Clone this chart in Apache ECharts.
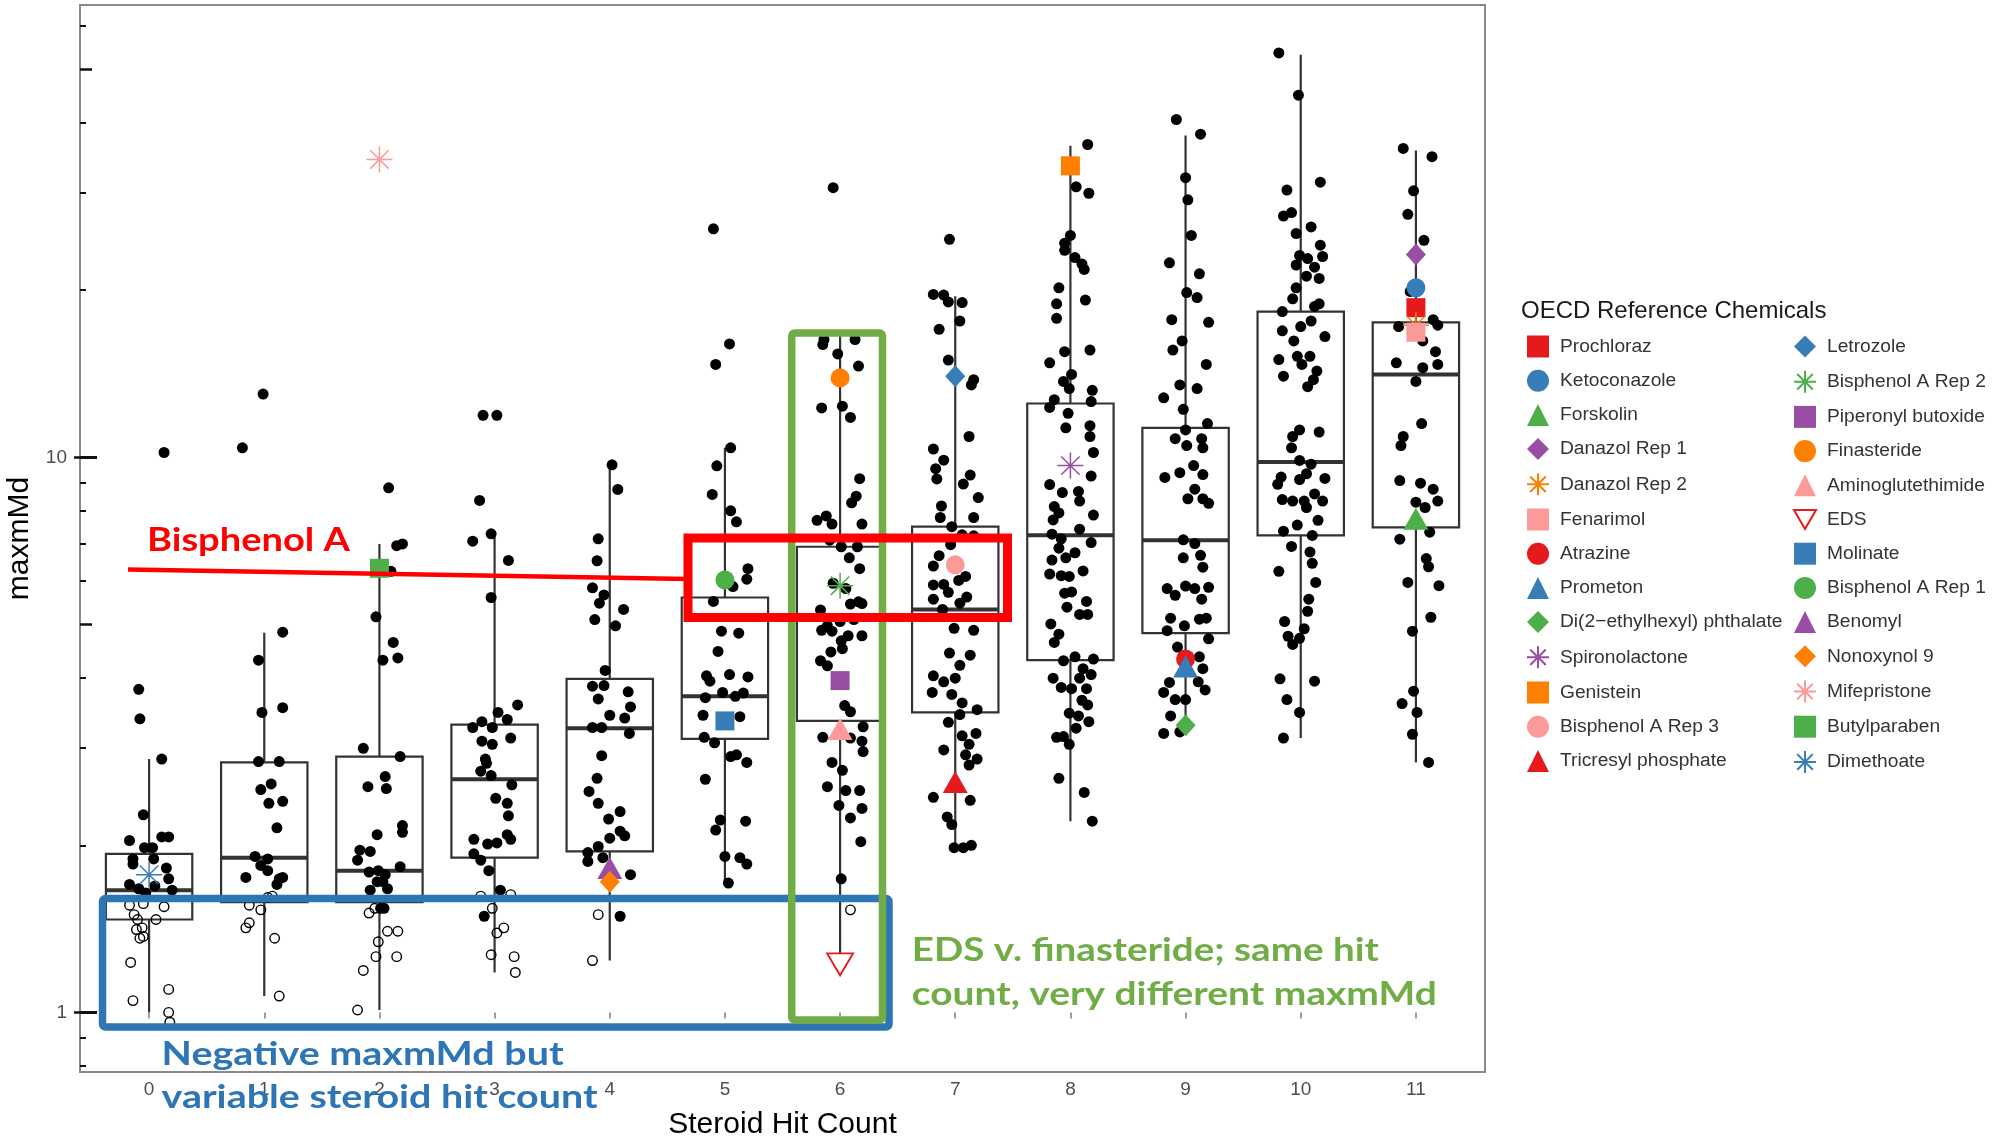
<!DOCTYPE html>
<html><head><meta charset="utf-8">
<script src="https://cdn.jsdelivr.net/npm/echarts@6/dist/echarts.min.js"></script>
<style>html,body{margin:0;padding:0;background:#fff}#c{width:2015px;height:1137px}</style>
</head><body><div id="c"></div>
<script>
// ---------------- DATA ----------------
const hitCounts = [0,1,2,3,4,5,6,7,8,9,10,11];
const yTickLabels = [1, 10];
const yMidTicks = [5, 50];
const yMinorTicks = [0.8,0.9,2,3,4,6,7,8,9,20,30,40,60];

// box statistics (maxmMd)
const boxLow  = [1.00,1.07,1.01,1.18,1.24,1.71,1.21,1.98,2.21,3.20,3.12,2.82];
const boxQ1   = [1.47,1.58,1.58,1.90,1.95,3.11,3.35,3.47,4.31,4.82,7.23,7.48];
const boxMed  = [1.66,1.90,1.80,2.63,3.25,3.71,5.10,5.32,7.24,7.09,9.81,14.1];
const boxQ3   = [1.93,2.82,2.89,3.30,3.99,5.59,6.90,7.50,12.5,11.3,18.3,17.5];
const boxHigh = [2.86,4.83,6.98,7.25,9.69,10.4,16.6,19.5,36.4,38.0,53.1,35.7];

// jittered chemicals: [jitter (category units), maxmMd]; pos = positive maxmMd, neg = negative
const pos0 = [[0.13,10.2],[-0.09,3.82],[-0.08,3.38],[0.11,2.86],[-0.05,2.27],[-0.17,2.04],[-0.04,1.98],[0.03,1.98],[0.11,2.07],[0.17,2.07],[-0.14,1.89],[-0.14,1.85],[0.04,1.89],[0.15,1.82],[-0.17,1.70],[0.17,1.74],[0.05,1.69],[0.20,1.66],[-0.03,1.64],[-0.09,1.67]];
const neg0 = [[-0.17,1.56],[-0.05,1.57],[0.13,1.55],[-0.13,1.50],[-0.10,1.47],[0.06,1.47],[-0.11,1.41],[-0.06,1.42],[-0.05,1.37],[-0.08,1.36],[-0.16,1.23],[-0.14,1.05],[0.17,1.10],[0.17,1.00],[0.18,0.96]];
const pos1 = [[-0.01,13.0],[-0.19,10.4],[0.16,4.84],[-0.05,4.31],[-0.02,3.47],[0.16,3.54],[-0.05,2.83],[0.13,2.83],[-0.03,2.52],[0.06,2.58],[0.04,2.38],[0.16,2.40],[0.11,2.15],[-0.08,1.91],[0.03,1.89],[-0.03,1.84],[0.03,1.80],[-0.16,1.75],[0.13,1.74],[0.16,1.75],[0.11,1.70]];
const neg1 = [[-0.13,1.56],[-0.03,1.53],[0.03,1.61],[-0.13,1.45],[-0.16,1.42],[0.09,1.36],[0.13,1.07],[0.07,1.62]];
const pos2 = [[0.08,8.81],[0.15,6.93],[0.20,6.98],[0.10,6.23],[-0.03,5.16],[0.12,4.64],[0.03,4.31],[0.16,4.35],[-0.14,2.99],[0.18,2.89],[0.05,2.66],[-0.10,2.55],[0.06,2.53],[-0.02,2.09],[0.20,2.17],[0.20,2.11],[-0.17,1.96],[-0.08,1.95],[-0.19,1.88],[0.18,1.83],[-0.09,1.79],[-0.01,1.80],[0.05,1.77],[-0.02,1.72],[0.03,1.72],[0.07,1.67],[-0.08,1.66],[0.01,1.54],[0.04,1.54]];
const neg2 = [[-0.09,1.51],[-0.04,1.54],[0.07,1.40],[0.16,1.40],[-0.01,1.34],[-0.03,1.26],[0.15,1.26],[-0.14,1.19],[-0.19,1.01]];
const pos3 = [[-0.10,11.9],[0.02,11.9],[-0.13,8.36],[-0.03,7.28],[-0.19,7.06],[0.12,6.52],[-0.03,5.59],[0.03,3.47],[0.20,3.58],[-0.11,3.34],[-0.19,3.26],[-0.02,3.26],[0.11,3.37],[0.14,3.12],[-0.11,3.08],[-0.02,3.04],[-0.08,2.86],[-0.12,2.72],[-0.03,2.67],[-0.07,2.81],[0.15,2.57],[0.01,2.43],[0.11,2.38],[0.12,2.26],[-0.18,2.05],[-0.06,2.01],[0.02,2.02],[0.14,2.05],[0.11,2.09],[-0.18,1.93],[-0.12,1.88],[-0.05,1.80],[0.05,1.66],[-0.09,1.49]];
const neg3 = [[-0.12,1.62],[0.14,1.63],[-0.02,1.54],[0.08,1.42],[0.02,1.39],[-0.03,1.27],[0.17,1.26],[0.18,1.18]];
const pos4 = [[0.02,9.69],[0.07,8.75],[-0.10,7.13],[-0.11,6.51],[-0.15,5.82],[-0.09,5.46],[-0.05,5.65],[0.12,5.32],[-0.13,5.10],[0.05,4.97],[-0.04,4.13],[-0.15,3.87],[-0.05,3.88],[0.16,3.78],[-0.10,3.67],[0.18,3.55],[0.00,3.43],[0.13,3.39],[-0.15,3.26],[-0.07,3.26],[0.17,3.18],[-0.07,2.90],[-0.11,2.64],[-0.18,2.50],[-0.10,2.38],[0.09,2.30],[-0.01,2.23],[0.09,2.12],[0.13,2.08],[0.00,2.06],[-0.10,1.99],[-0.19,1.94],[-0.19,1.87],[-0.06,1.90],[0.18,1.77],[0.09,1.49]];
const neg4 = [[-0.10,1.50],[-0.15,1.24]];
const pos5 = [[-0.10,25.8],[0.04,16.0],[-0.08,14.7],[0.05,10.4],[-0.07,9.65],[-0.11,8.57],[0.05,8.01],[0.10,7.65],[0.20,6.30],[0.19,6.03],[0.07,5.85],[-0.10,5.50],[-0.03,4.86],[0.12,4.82],[-0.06,4.47],[0.04,4.06],[0.20,4.02],[-0.16,4.04],[-0.13,3.95],[-0.02,3.77],[-0.17,3.69],[0.16,3.76],[0.09,3.71],[-0.19,3.43],[0.13,3.41],[-0.18,3.13],[-0.09,3.06],[0.05,2.89],[0.10,2.91],[0.19,2.82],[-0.17,2.63],[-0.04,2.22],[-0.08,2.13],[0.18,2.21],[0.00,1.91],[0.13,1.90],[0.19,1.85],[0.03,1.71]];
const pos6 = [[-0.06,30.6],[-0.14,16.3],[0.13,16.3],[-0.15,15.96],[-0.02,15.35],[0.16,14.6],[-0.16,12.27],[0.02,12.36],[0.09,11.8],[0.17,9.15],[0.14,8.51],[0.10,8.28],[-0.20,7.70],[-0.12,7.84],[-0.07,7.58],[0.19,7.58],[-0.09,7.09],[0.01,6.90],[0.15,6.90],[0.08,6.59],[0.17,6.30],[-0.06,5.93],[0.05,5.80],[0.16,5.49],[0.09,5.44],[0.19,5.45],[-0.17,5.31],[-0.11,4.97],[0.00,5.06],[0.12,5.10],[-0.16,4.88],[-0.07,4.86],[0.07,4.77],[0.19,4.77],[0.01,4.67],[-0.08,4.46],[-0.17,4.30],[0.02,4.52],[-0.11,4.21],[0.04,3.57],[0.09,3.48],[-0.15,3.13],[0.09,3.12],[0.20,3.27],[0.19,3.08],[0.20,2.95],[-0.07,2.82],[0.02,2.73],[-0.11,2.55],[0.05,2.51],[0.17,2.51],[-0.01,2.36],[0.19,2.33],[0.09,2.24],[0.18,2.03],[0.01,1.74]];
const neg6 = [[0.09,1.53]];
const pos7 = [[-0.05,24.7],[-0.19,19.65],[-0.10,19.6],[-0.06,19.05],[0.06,19.0],[0.04,17.6],[-0.14,17.0],[-0.06,14.97],[0.16,13.8],[0.14,13.5],[0.12,10.9],[-0.19,10.35],[-0.10,9.88],[-0.17,9.54],[-0.16,9.14],[0.13,9.29],[0.07,8.95],[0.20,8.46],[-0.12,8.17],[-0.13,7.79],[0.16,7.79],[-0.03,7.50],[0.06,7.25],[0.16,7.22],[-0.04,6.96],[-0.14,6.65],[-0.19,6.37],[0.09,6.10],[-0.10,5.90],[-0.19,5.89],[0.03,6.00],[-0.06,5.71],[0.10,5.60],[-0.19,5.55],[-0.11,5.32],[0.04,5.46],[-0.01,4.92],[0.16,4.88],[-0.05,4.44],[0.13,4.40],[0.04,4.22],[-0.19,4.04],[-0.10,3.94],[0.00,4.00],[-0.20,3.77],[-0.03,3.74],[0.06,3.61],[0.19,3.51],[0.04,3.44],[-0.06,3.33],[0.06,3.15],[0.18,3.18],[-0.10,2.97],[0.12,3.04],[0.09,2.91],[0.19,2.86],[0.12,2.79],[-0.19,2.44],[0.13,2.41],[-0.07,2.25],[-0.03,2.18],[-0.01,1.98],[0.14,2.00],[0.07,1.98]];
const pos8 = [[0.15,36.6],[0.05,30.7],[0.16,29.9],[0.00,25.1],[-0.05,24.3],[-0.05,23.6],[0.04,22.9],[0.10,22.3],[0.12,21.8],[-0.10,20.2],[-0.12,18.9],[0.13,19.2],[-0.12,17.8],[0.17,15.6],[-0.05,15.5],[-0.18,14.8],[0.01,14.1],[-0.06,13.7],[-0.01,13.3],[0.19,13.2],[-0.14,12.7],[-0.18,12.3],[0.18,12.6],[-0.02,12.0],[0.17,11.4],[-0.04,11.3],[0.17,10.9],[0.20,10.2],[0.18,9.25],[-0.18,8.93],[-0.07,8.64],[0.07,8.68],[0.08,8.34],[-0.14,8.15],[-0.10,7.94],[0.20,7.87],[-0.15,7.71],[0.08,7.42],[0.18,7.02],[-0.16,7.27],[-0.08,7.13],[0.04,6.73],[-0.10,6.86],[-0.16,6.53],[-0.04,6.59],[0.11,6.24],[-0.18,6.16],[-0.08,6.12],[-0.01,6.10],[-0.05,5.69],[0.01,5.72],[0.14,5.50],[-0.03,5.37],[0.08,5.21],[0.15,5.21],[-0.17,5.01],[-0.10,4.80],[-0.14,4.64],[-0.06,4.30],[0.04,4.37],[0.20,4.33],[0.11,4.16],[-0.15,4.00],[0.18,4.06],[0.08,4.00],[-0.08,3.85],[0.01,3.83],[0.14,3.83],[0.10,3.65],[0.15,3.58],[-0.01,3.46],[0.07,3.42],[0.16,3.34],[0.05,3.25],[-0.12,3.13],[-0.06,3.14],[-0.01,3.04],[-0.10,2.64],[0.12,2.49],[0.19,2.21]];
const pos9 = [[-0.08,40.6],[0.13,38.2],[0.00,31.9],[0.02,29.1],[0.05,25.1],[-0.14,22.4],[0.12,21.4],[0.01,19.8],[0.10,19.4],[-0.12,17.7],[0.20,17.5],[-0.03,16.2],[-0.11,15.6],[0.18,14.7],[-0.05,13.5],[0.10,13.3],[-0.19,12.8],[-0.02,12.2],[0.19,11.5],[0.00,11.2],[-0.09,10.8],[0.14,10.8],[0.01,10.5],[0.15,10.4],[0.07,9.66],[-0.05,9.38],[-0.18,9.20],[0.15,9.31],[0.08,8.76],[0.15,8.42],[0.02,8.42],[0.20,8.26],[-0.02,7.10],[0.08,6.99],[0.13,6.66],[-0.02,6.59],[0.15,6.34],[-0.16,5.80],[-0.09,5.64],[0.00,5.86],[0.08,5.80],[0.20,5.83],[0.14,5.55],[-0.13,5.13],[-0.01,4.97],[0.12,5.11],[0.18,5.13],[-0.16,4.87],[0.20,4.71],[-0.07,4.55],[0.12,4.37],[0.15,4.16],[-0.14,3.93],[0.11,3.94],[0.17,3.81],[-0.19,3.77],[-0.09,3.66],[0.00,3.66],[-0.13,3.42],[-0.19,3.18],[-0.05,3.20]];
const pos10 = [[-0.19,53.5],[-0.02,44.9],[0.17,31.3],[-0.12,30.3],[-0.08,27.6],[-0.15,27.2],[0.09,26.0],[-0.04,25.3],[0.17,24.1],[0.19,23.0],[-0.01,23.1],[0.06,22.8],[-0.04,22.2],[0.12,22.0],[0.05,21.2],[0.16,21.0],[-0.04,20.2],[-0.07,19.3],[0.16,18.9],[0.12,18.7],[-0.16,18.3],[0.09,17.6],[0.00,17.2],[-0.16,16.9],[-0.06,16.2],[0.21,16.5],[-0.19,15.0],[-0.03,15.2],[0.08,15.2],[0.01,14.7],[0.14,14.3],[-0.15,14.0],[0.11,13.8],[0.06,13.4],[-0.01,11.2],[0.16,11.1],[-0.07,10.9],[-0.08,10.4],[-0.01,9.87],[0.09,9.72],[-0.17,9.21],[0.05,9.34],[-0.01,9.12],[0.21,9.16],[-0.20,8.94],[0.12,8.59],[-0.16,8.39],[-0.07,8.34],[0.03,8.34],[0.19,8.34],[0.05,8.12],[0.15,7.70],[-0.03,7.55],[-0.15,7.36],[0.10,7.23],[-0.08,6.91],[0.08,6.75],[0.10,6.44],[-0.19,6.23],[0.13,5.95],[0.07,5.55],[0.06,5.28],[-0.14,5.06],[0.03,4.91],[-0.11,4.76],[-0.01,4.72],[-0.07,4.60],[-0.18,3.99],[0.12,3.95],[-0.12,3.66],[-0.01,3.47],[-0.15,3.12]];
const pos11 = [[-0.11,36.0],[0.14,34.8],[-0.02,30.2],[-0.07,27.4],[0.07,24.6],[-0.05,19.9],[-0.15,17.2],[0.15,17.7],[0.19,17.3],[0.06,16.2],[0.17,15.5],[-0.17,14.8],[0.19,14.7],[0.06,14.5],[0.00,13.7],[0.05,11.5],[-0.11,10.9],[-0.13,10.5],[-0.14,9.08],[0.04,8.98],[0.15,8.76],[0.19,8.34],[0.00,8.30],[0.08,8.12],[-0.14,7.12],[0.12,7.33],[0.09,6.57],[0.11,6.35],[-0.07,5.95],[0.20,5.87],[0.13,5.15],[-0.03,4.86],[-0.02,3.79],[-0.12,3.60],[0.01,3.47],[-0.03,3.17],[0.11,2.82]];

// OECD reference chemicals
const chemNames = ['Prochloraz','Ketoconazole','Forskolin','Danazol Rep 1','Danazol Rep 2','Fenarimol','Atrazine','Prometon','Di(2\u2212ethylhexyl) phthalate','Spironolactone','Genistein','Bisphenol A Rep 3','Tricresyl phosphate','Letrozole','Bisphenol A Rep 2','Piperonyl butoxide','Finasteride','Aminoglutethimide','EDS','Molinate','Bisphenol A Rep 1','Benomyl','Nonoxynol 9','Mifepristone','Butylparaben','Dimethoate'];
const chemHitCount = [11,11,11,11,11,11,9,9,9,8,8,7,7,7,6,6,6,6,6,5,5,4,4,2,2,0];
const chemMaxmMd = [18.6,20.2,7.75,23.2,17.3,16.8,4.33,4.2,3.29,9.66,33.5,6.40,2.60,14.0,5.87,3.96,13.9,3.24,1.22,3.35,6.01,1.82,1.72,34.4,6.31,1.77];

// ---------------- STYLES ----------------
const FONT = "'Liberation Sans', Arial, sans-serif";
const RED = '#E41A1C', BLUE = '#377EB8', GREEN = '#4DAF4A', PURPLE = '#984EA3', ORANGE = '#FF7F00', PINK = '#FB9A99';
const chemShape = ['square','circle','triangle','diamond','star','square','circle','triangle','diamond','star','square','circle','triangle','diamond','star','square','circle','triangle','opentri','square','circle','triangle','diamond','star','square','star'];
const chemColor = [RED,BLUE,GREEN,PURPLE,ORANGE,PINK,RED,BLUE,GREEN,PURPLE,ORANGE,PINK,RED,BLUE,GREEN,PURPLE,ORANGE,PINK,RED,BLUE,GREEN,PURPLE,ORANGE,PINK,GREEN,BLUE];
const STAR = 'path://M10,0L10,20M0,10L20,10M2.93,2.93L17.07,17.07M2.93,17.07L17.07,2.93';
const DOWNTRI = 'path://M0,0L22,0L11,19Z';
const yMin = 0.7809, yMax = 65.28;
const lMin = Math.log10(yMin), lMax = Math.log10(yMax);
const BOX_HALF = 0.375;

function shapeStyle(shape, color) {
  switch (shape) {
    case 'square': return {symbol:'rect', symbolSize:19, itemStyle:{color, opacity:1}};
    case 'circle': return {symbol:'circle', symbolSize:19, itemStyle:{color, opacity:1}};
    case 'triangle': return {symbol:'triangle', symbolSize:[25,22], itemStyle:{color, opacity:1}};
    case 'diamond': return {symbol:'diamond', symbolSize:[20,22], itemStyle:{color, opacity:1}};
    case 'star': return {symbol:STAR, symbolSize:26, itemStyle:{color:'rgba(0,0,0,0)', borderColor:color, borderWidth:1.5, opacity:1}};
    case 'opentri': return {symbol:DOWNTRI, symbolSize:[26,22], itemStyle:{color:'#ffffff', borderColor:color, borderWidth:1.8, opacity:1}};
  }
}

const posGroups = [pos0,pos1,pos2,pos3,pos4,pos5,pos6,pos7,pos8,pos9,pos10,pos11];
const negGroups = [neg0,neg1,neg2,neg3,neg4,[],neg6,[],[],[],[],[]];
const posData = [], negData = [];
posGroups.forEach((arr, i) => arr.forEach(p => posData.push([hitCounts[i] + p[0], p[1]])));
negGroups.forEach((arr, i) => arr.forEach(p => negData.push([hitCounts[i] + p[0], p[1]])));
const boxData = hitCounts.map((h, i) => [h, boxLow[i], boxQ1[i], boxMed[i], boxQ3[i], boxHigh[i]]);

const series = [];
series.push({
  type:'custom', name:'box', xAxisIndex:0, yAxisIndex:0, z:2, silent:true,
  encode:{x:0, y:[1,2,3,4,5]}, data: boxData,
  renderItem: function(params, api) {
    const g = api.value(0);
    const lo = api.coord([g, api.value(1)]);
    const q1 = api.coord([g, api.value(2)]);
    const md = api.coord([g, api.value(3)]);
    const q3 = api.coord([g, api.value(4)]);
    const hi = api.coord([g, api.value(5)]);
    const left = api.coord([g - BOX_HALF, api.value(3)])[0];
    const right = api.coord([g + BOX_HALF, api.value(3)])[0];
    const stroke = '#333333';
    return {type:'group', children:[
      {type:'line', shape:{x1:q3[0], y1:q3[1], x2:hi[0], y2:hi[1]}, style:{stroke, lineWidth:2.2}},
      {type:'line', shape:{x1:q1[0], y1:q1[1], x2:lo[0], y2:lo[1]}, style:{stroke, lineWidth:2.2}},
      {type:'rect', shape:{x:left, y:q3[1], width:right-left, height:q1[1]-q3[1]}, style:{fill:'#ffffff', stroke, lineWidth:2.2}},
      {type:'line', shape:{x1:left, y1:md[1], x2:right, y2:md[1]}, style:{stroke, lineWidth:4}}
    ]};
  }
});
series.push({type:'scatter', name:'negative', data:negData, symbol:'circle', symbolSize:9.5, z:3, silent:true,
  itemStyle:{color:'rgba(0,0,0,0)', borderColor:'#000', borderWidth:1.4, opacity:1}});
series.push({type:'scatter', name:'positive', data:posData, symbol:'circle', symbolSize:11, z:3, silent:true,
  itemStyle:{color:'#000', opacity:1}});
chemNames.forEach((n, i) => {
  const st = shapeStyle(chemShape[i], chemColor[i]);
  series.push(Object.assign({type:'scatter', name:n, z:4, silent:true, data:[[chemHitCount[i], chemMaxmMd[i]]]}, st));
});

// annotation text fitting
const mctx = document.createElement('canvas').getContext('2d');
const ANN_FONT = 'bold 32px Lato';
function annText(txt, x, baseline, color, targetW) {
  mctx.font = ANN_FONT;
  const w = mctx.measureText(txt).width;
  return {type:'text', x:x, y:baseline - 12.4, scaleX: targetW / w, z:110, silent:true,
    style:{text:txt, font:ANN_FONT, fill:color, textAlign:'left', textVerticalAlign:'middle', align:'left', verticalAlign:'middle'}};
}

const tickAxis = (values, len, width, inside) => ({
  type:'value', gridIndex:0, position:'left', min:lMin, max:lMax,
  axisLine:{show:false}, splitLine:{show:false}, axisLabel:{show:false},
  axisTick:{show:true, inside:inside, customValues: values.map(v => Math.log10(v)), length:len, lineStyle:{color:'#111', width:width}}
});

const legendBase = {orient:'vertical', itemWidth:22, itemHeight:22, itemGap:12.2, padding:0, selectedMode:false,
  textStyle:{fontSize:19.2, color:'#333', fontFamily:FONT, padding:[0,0,0,6], lineHeight:22}};

const option = {
  animation:false,
  backgroundColor:'#ffffff',
  title:{text:'OECD Reference Chemicals', left:1521, top:299, padding:0,
    textStyle:{fontSize:24, fontWeight:'normal', color:'#1a1a1a', fontFamily:FONT}},
  legend:[
    Object.assign({}, legendBase, {left:1526, top:335.5, data: chemNames.slice(0,13)}),
    Object.assign({}, legendBase, {left:1793, top:335.5, data: chemNames.slice(13)})
  ],
  grid:{left:80, top:5, width:1405, height:1067, outerBoundsMode:'none', containLabel:false,
    show:true, borderColor:'#8a8a8a', borderWidth:2, backgroundColor:'#fff'},
  xAxis:{type:'value', min:-0.6, max:11.6, axisLine:{show:false}, splitLine:{show:false},
    axisTick:{show:true, customValues:hitCounts, length:6, lineStyle:{color:'#7f7f7f', width:1.5}},
    axisLabel:{customValues:hitCounts, margin:8, fontSize:19, color:'#4d4d4d', fontFamily:FONT},
    name:'Steroid Hit Count', nameLocation:'middle', nameGap:38,
    nameTextStyle:{fontSize:30, color:'#000', fontFamily:FONT}},
  yAxis:[
    {type:'log', logBase:10, min:yMin, max:yMax, axisLine:{show:false}, axisTick:{show:false}, axisLabel:{show:false}, splitLine:{show:false}},
    {type:'value', gridIndex:0, position:'left', min:lMin, max:lMax, axisLine:{show:false}, splitLine:{show:false},
      axisTick:{show:true, inside:false, customValues:yTickLabels.map(v => Math.log10(v)), length:6, lineStyle:{color:'#111', width:2.5}},
      axisLabel:{customValues:yTickLabels.map(v => Math.log10(v)), formatter: v => String(Math.round(Math.pow(10, v))),
        margin:13, fontSize:19, color:'#4d4d4d', fontFamily:FONT},
      name:'maxmMd', nameLocation:'middle', nameGap:40, nameTextStyle:{fontSize:30, color:'#000', fontFamily:FONT}},
    tickAxis(yTickLabels, 17, 3, true),
    tickAxis(yMidTicks, 12, 2.5, true),
    tickAxis(yMinorTicks, 6, 2, true)
  ],
  series: series,
  graphic:[
    {type:'rect', z:100, silent:true, shape:{x:102.5, y:898.5, width:786.5, height:128.5, r:3}, style:{fill:'none', stroke:'#2E75B6', lineWidth:7.5}},
    {type:'rect', z:101, silent:true, shape:{x:791.7, y:333, width:90.8, height:687, r:3}, style:{fill:'none', stroke:'#70AD47', lineWidth:7.5}},
    {type:'line', z:102, silent:true, shape:{x1:128, y1:569.5, x2:688, y2:579}, style:{stroke:'#FF0000', lineWidth:4.5}},
    {type:'rect', z:102, silent:true, shape:{x:688, y:538, width:319.5, height:79.5}, style:{fill:'none', stroke:'#FF0000', lineWidth:9}},
    annText('Bisphenol A', 147, 553, '#FF0000', 203),
    annText('Negative maxmMd but', 161.6, 1066.7, '#2E75B6', 402),
    annText('variable steroid hit count', 161.6, 1110, '#2E75B6', 436),
    annText('EDS v. finasteride; same hit', 911.8, 963, '#70AD47', 467),
    annText('count, very different maxmMd', 911.8, 1007.5, '#70AD47', 525)
  ]
};
const chart = echarts.init(document.getElementById('c'), null, {renderer:'canvas'});
chart.setOption(option);
</script>
</body></html>
